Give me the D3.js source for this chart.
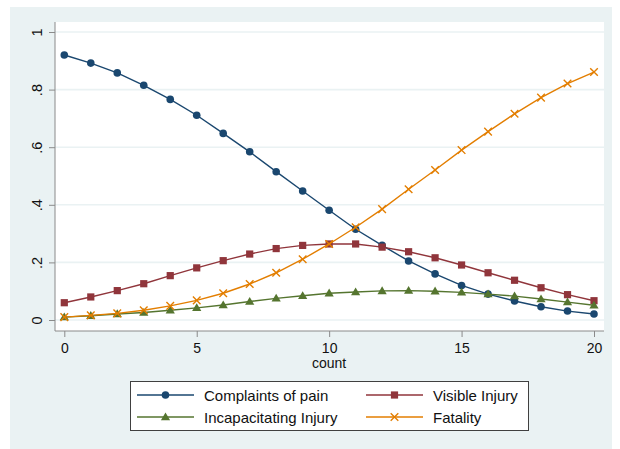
<!DOCTYPE html>
<html>
<head>
<meta charset="utf-8">
<script src="https://cdn.jsdelivr.net/npm/d3@7"></script>
<style>
  body { margin: 0; background: #fff; }
  text { font-family: "Liberation Sans", Arial, sans-serif; fill: #111; }
</style>
</head>
<body>
<div id="chart"></div>
<script>
var counts = d3.range(0, 21);
var pain = [0.920, 0.892, 0.858, 0.815, 0.766, 0.711, 0.648, 0.584, 0.515, 0.448, 0.381,
  0.315, 0.259, 0.205, 0.160, 0.120, 0.090, 0.066, 0.046, 0.031, 0.021];
var visible = [0.060, 0.080, 0.102, 0.126, 0.154, 0.181, 0.206, 0.229, 0.248, 0.259, 0.264,
  0.264, 0.253, 0.237, 0.216, 0.191, 0.164, 0.138, 0.112, 0.088, 0.067];
var incap = [0.010, 0.015, 0.021, 0.026, 0.034, 0.042, 0.052, 0.064, 0.075, 0.084, 0.093,
  0.097, 0.101, 0.102, 0.100, 0.096, 0.090, 0.083, 0.073, 0.062, 0.051];
var fatal = [0.010, 0.016, 0.023, 0.034, 0.049, 0.068, 0.093, 0.125, 0.164, 0.211, 0.264,
  0.322, 0.385, 0.454, 0.521, 0.590, 0.654, 0.716, 0.772, 0.821, 0.861];
var yTicks = [0, 0.2, 0.4, 0.6, 0.8, 1];
var yTickLabels = ['0', '.2', '.4', '.6', '.8', '1'];
var xTicks = [0, 5, 10, 15, 20];

var series = [
  { name: 'Complaints of pain', values: pain, color: '#1a476f', marker: 'circle' },
  { name: 'Visible Injury', values: visible, color: '#90353b', marker: 'square' },
  { name: 'Incapacitating Injury', values: incap, color: '#55752f', marker: 'triangle' },
  { name: 'Fatality', values: fatal, color: '#e37e00', marker: 'x' }
];

var W = 620, H = 449;
var plot = { left: 55, top: 22, right: 604, bottom: 331 };

var svg = d3.select('#chart')
  .append('svg')
    .attr('width', W)
    .attr('height', H);

// outer graph region
svg.append('rect')
  .attr('x', 10).attr('y', 7)
  .attr('width', 602).attr('height', 442)
  .attr('fill', '#eaf2f3');

// plot region
svg.append('rect')
  .attr('x', plot.left).attr('y', plot.top)
  .attr('width', plot.right - plot.left).attr('height', plot.bottom - plot.top)
  .attr('fill', '#fff');

var x = d3.scaleLinear().domain([0, 20]).range([64.3, 594]);
var y = d3.scaleLinear().domain([0, 1]).range([320, 32]);

// grid lines
svg.append('g')
  .selectAll('line')
  .data(yTicks)
  .enter().append('line')
    .attr('x1', plot.left).attr('x2', plot.right)
    .attr('y1', d => y(d)).attr('y2', d => y(d))
    .attr('stroke', '#eaf2f3')
    .attr('stroke-width', 1.6);

// y axis
var yAxis = svg.append('g')
  .attr('transform', `translate(${plot.left}, 0)`)
  .call(d3.axisLeft(y)
    .tickValues(yTicks)
    .tickFormat((d, i) => yTickLabels[i])
    .tickSize(6)
    .tickSizeOuter(0));
yAxis.select('.domain').remove();
yAxis.selectAll('.tick line').attr('stroke', '#8a8a8a');
yAxis.selectAll('.tick text')
  .attr('x', 0).attr('dy', 0)
  .attr('transform', 'translate(-13, 0) rotate(-90)')
  .attr('text-anchor', 'middle')
  .style('font-size', '14.5px')
  .style('font-family', '"Liberation Sans", Arial, sans-serif')
  .attr('fill', '#111');

// x axis
var xAxis = svg.append('g')
  .attr('transform', `translate(0, ${plot.bottom})`)
  .call(d3.axisBottom(x)
    .tickValues(xTicks)
    .tickFormat(d3.format('d'))
    .tickSize(6)
    .tickSizeOuter(0));
xAxis.select('.domain').remove();
xAxis.selectAll('.tick line').attr('stroke', '#8a8a8a');
xAxis.selectAll('.tick text')
  .attr('y', 0).attr('dy', 0)
  .attr('transform', 'translate(0, 21.5)')
  .style('font-size', '14px')
  .style('font-family', '"Liberation Sans", Arial, sans-serif')
  .attr('fill', '#111');

// axis lines
svg.append('line')
  .attr('x1', plot.left).attr('x2', plot.left)
  .attr('y1', plot.top).attr('y2', plot.bottom)
  .attr('stroke', '#8a8a8a').attr('stroke-width', 1);
svg.append('line')
  .attr('x1', plot.left).attr('x2', plot.right)
  .attr('y1', plot.bottom).attr('y2', plot.bottom)
  .attr('stroke', '#8a8a8a').attr('stroke-width', 1);

svg.append('text')
  .attr('x', x(10)).attr('y', 368)
  .attr('text-anchor', 'middle')
  .style('font-size', '14px')
  .text('count');

// marker drawing
function drawMarker (g, type, color, cx, cy) {
  if (type === 'circle') {
    g.append('circle').attr('cx', cx).attr('cy', cy).attr('r', 3.8).attr('fill', color);
  } else if (type === 'square') {
    g.append('rect').attr('x', cx - 3.6).attr('y', cy - 3.6)
      .attr('width', 7.2).attr('height', 7.2).attr('fill', color);
  } else if (type === 'triangle') {
    var s = 4.6;
    g.append('path')
      .attr('d', `M${cx},${cy - s} L${cx + s},${cy + s * 0.7} L${cx - s},${cy + s * 0.7} Z`)
      .attr('fill', color);
  } else {
    var a = 3.8;
    g.append('path')
      .attr('d', `M${cx - a},${cy - a} L${cx + a},${cy + a} M${cx - a},${cy + a} L${cx + a},${cy - a}`)
      .attr('stroke', color).attr('stroke-width', 1.4).attr('fill', 'none');
  }
}

var line = d3.line()
  .x((d, i) => x(counts[i]))
  .y(d => y(d));

series.forEach(function (s) {
  var g = svg.append('g');
  g.append('path')
    .attr('d', line(s.values))
    .attr('fill', 'none')
    .attr('stroke', s.color)
    .attr('stroke-width', 1.4);
  s.values.forEach(function (v, i) {
    drawMarker(g, s.marker, s.color, x(counts[i]), y(v));
  });
});

// legend
var legend = svg.append('g');
legend.append('rect')
  .attr('x', 130.5).attr('y', 381.5)
  .attr('width', 398).attr('height', 49)
  .attr('fill', '#fff')
  .attr('stroke', '#404040')
  .attr('stroke-width', 1);

var cols = [137, 366];
var rows = [395, 417];
series.forEach(function (s, i) {
  var lx = cols[i % 2], ly = rows[Math.floor(i / 2)];
  legend.append('line')
    .attr('x1', lx).attr('x2', lx + 57)
    .attr('y1', ly).attr('y2', ly)
    .attr('stroke', s.color).attr('stroke-width', 1.4);
  drawMarker(legend, s.marker, s.color, lx + 28.5, ly);
  legend.append('text')
    .attr('x', lx + 67).attr('y', ly + 5.5)
    .style('font-size', '15px')
    .text(s.name);
});
</script>
</body>
</html>
